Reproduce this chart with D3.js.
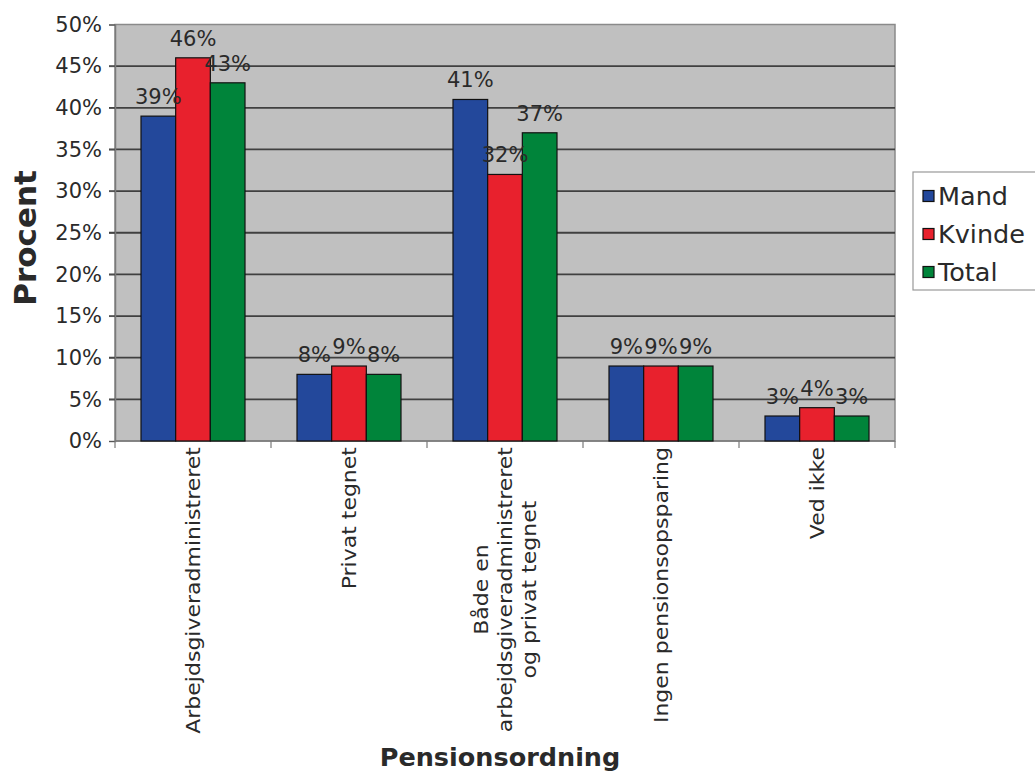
<!DOCTYPE html>
<html>
<head>
<meta charset="utf-8">
<script src="https://cdn.jsdelivr.net/npm/d3@7"></script>
<style>
  body { margin: 0; background: #fff; }
  text { font-family: "DejaVu Sans", Verdana, sans-serif; fill: #2a2a2a; }
</style>
</head>
<body>
<svg id="chart" width="1035" height="772"></svg>
<script>
// categories (line breaks with \n)
const categories = [
  "Arbejdsgiveradministreret",
  "Privat tegnet",
  "Både en\narbejdsgiveradministreret\nog privat tegnet",
  "Ingen pensionsopsparing",
  "Ved ikke"
];
const seriesNames = ["Mand", "Kvinde", "Total"];
const mand   = [0.39, 0.08, 0.41, 0.09, 0.03];
const kvinde = [0.46, 0.09, 0.32, 0.09, 0.04];
const total  = [0.43, 0.08, 0.37, 0.09, 0.03];
const yTicks = [0, 0.05, 0.10, 0.15, 0.20, 0.25, 0.30, 0.35, 0.40, 0.45, 0.50];
const colors = ["#23489b", "#e8212d", "#00843a"];

const seriesValues = [mand, kvinde, total];

const svg = d3.select("#chart");
const plot = { left: 115, right: 895, top: 24.5, bottom: 441 };

const x0 = d3.scaleBand().domain(categories).range([plot.left, plot.right]);
const x1 = d3.scaleBand().domain(seriesNames).range([0, x0.bandwidth()]).paddingOuter(0.75);
const y = d3.scaleLinear().domain([0, 0.5]).range([plot.bottom, plot.top]);
const color = d3.scaleOrdinal().domain(seriesNames).range(colors);

// plot background
svg.append("rect")
  .attr("x", plot.left).attr("y", plot.top)
  .attr("width", plot.right - plot.left).attr("height", plot.bottom - plot.top)
  .attr("fill", "#c0c0c0")
  .attr("stroke", "#8a8a8a").attr("stroke-width", 1.5);

// gridlines + left ticks
svg.append("g")
  .selectAll("line")
  .data(yTicks.slice(1, -1))
  .join("line")
  .attr("x1", plot.left - 6).attr("x2", plot.right)
  .attr("y1", d => y(d)).attr("y2", d => y(d))
  .attr("stroke", "#404040").attr("stroke-width", 1.8);

// y axis
const yAxis = svg.append("g")
  .attr("transform", `translate(${plot.left},0)`)
  .call(d3.axisLeft(y).tickValues(yTicks).tickFormat(d3.format(".0%")).tickSize(6).tickPadding(7));
yAxis.select(".domain").attr("stroke", "#7a7a7a").attr("stroke-width", 1.5);
yAxis.selectAll(".tick line").attr("stroke", "#555");
yAxis.selectAll(".tick text")
  .style("font-family", "DejaVu Sans, Verdana, sans-serif")
  .style("font-size", "21px").attr("fill", "#333");

// x axis line and boundary ticks
const xBounds = categories.map(c => x0(c)).concat([plot.right]);
svg.append("line")
  .attr("x1", plot.left).attr("x2", plot.right)
  .attr("y1", plot.bottom).attr("y2", plot.bottom)
  .attr("stroke", "#7a7a7a").attr("stroke-width", 1.5);
svg.append("g").selectAll("line")
  .data(xBounds)
  .join("line")
  .attr("x1", d => d).attr("x2", d => d)
  .attr("y1", plot.bottom).attr("y2", plot.bottom + 7)
  .attr("stroke", "#7a7a7a").attr("stroke-width", 1.2);

// bars
const rows = categories.map((c, i) => ({
  cat: c,
  vals: seriesNames.map((s, j) => ({ s: s, v: seriesValues[j][i] }))
}));

const groups = svg.append("g")
  .selectAll("g")
  .data(rows)
  .join("g")
  .attr("transform", d => `translate(${x0(d.cat)},0)`);

groups.selectAll("rect")
  .data(d => d.vals)
  .join("rect")
  .attr("x", d => x1(d.s))
  .attr("y", d => y(d.v))
  .attr("width", x1.bandwidth())
  .attr("height", d => y(0) - y(d.v))
  .attr("fill", d => color(d.s))
  .attr("stroke", "#111").attr("stroke-width", 1.2);

// value labels
groups.selectAll("text.val")
  .data(d => d.vals)
  .join("text")
  .attr("class", "val")
  .attr("x", d => x1(d.s) + x1.bandwidth() / 2)
  .attr("y", d => y(d.v) - 12)
  .attr("text-anchor", "middle")
  .style("font-size", "21px")
  .attr("fill", "#333")
  .text(d => Math.round(d.v * 100) + "%");

// category labels (rotated, multi-line centred)
const labelTop = 447;
const stretch = 1.1;
svg.append("g")
  .selectAll("text")
  .data(categories)
  .join("text")
  .style("font-size", "20px")
  .each(function(c) {
    const lines = c.split("\n");
    const t = d3.select(this);
    lines.forEach((ln, k) => {
      t.append("tspan")
        .attr("x", 0)
        .attr("dy", k === 0 ? (0.35 - (lines.length - 1) * 0.6) + "em" : "1.2em")
        .text(ln);
    });
    const maxLen = d3.max(t.selectAll("tspan").nodes(), n => n.getComputedTextLength()) * stretch;
    const cx = x0(c) + x0.bandwidth() / 2;
    t.attr("text-anchor", "middle")
      .attr("transform", `translate(${cx},${labelTop + maxLen / 2}) scale(1,${stretch}) rotate(-90)`);
  });

// axis titles
svg.append("text")
  .attr("transform", "translate(25,238) rotate(-90)")
  .attr("dy", "0.35em")
  .attr("text-anchor", "middle")
  .style("font-size", "31px").style("font-weight", "bold")
  .attr("fill", "#111")
  .text("Procent");

svg.append("text")
  .attr("x", 500).attr("y", 766)
  .attr("text-anchor", "middle")
  .style("font-size", "25.5px").style("font-weight", "bold")
  .attr("fill", "#111")
  .text("Pensionsordning");

// legend
const legend = svg.append("g");
legend.append("rect")
  .attr("x", 913).attr("y", 172).attr("width", 130).attr("height", 118)
  .attr("fill", "#fff").attr("stroke", "#999").attr("stroke-width", 1.2);
const items = legend.selectAll("g")
  .data(seriesNames)
  .join("g")
  .attr("transform", (d, i) => `translate(923,${196 + i * 38})`);
items.append("rect")
  .attr("x", 0).attr("y", -5.5).attr("width", 11).attr("height", 11)
  .attr("fill", d => color(d)).attr("stroke", "#111").attr("stroke-width", 1.2);
items.append("text")
  .attr("x", 15).attr("dy", "0.36em")
  .style("font-size", "25.5px")
  .attr("fill", "#333")
  .text(d => d);
</script>
</body>
</html>
